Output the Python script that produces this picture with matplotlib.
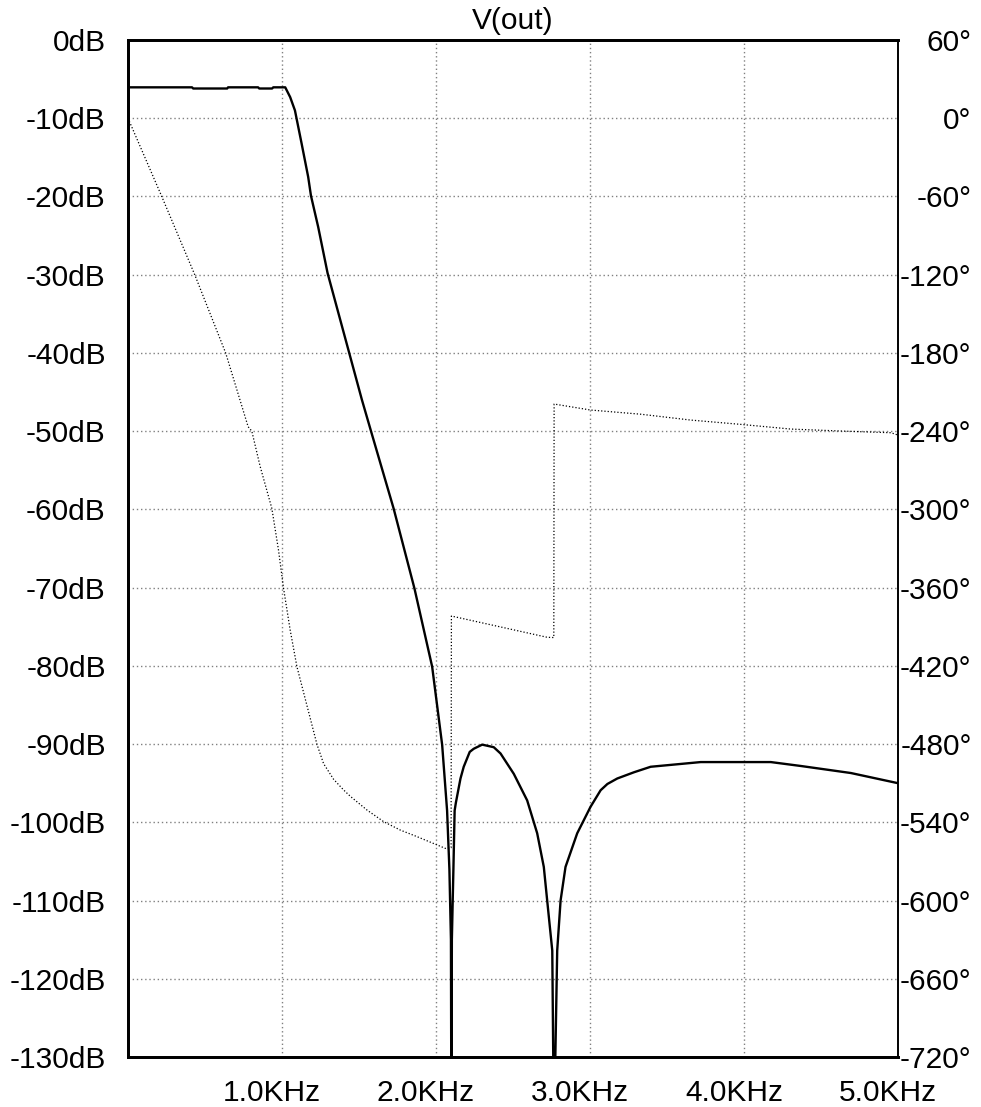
import matplotlib
matplotlib.use("Agg")
import matplotlib.pyplot as plt
from matplotlib.transforms import ScaledTranslation

plt.rcParams['font.family'] = ['Liberation Sans', 'DejaVu Sans']

# ---- data ----
mag_freq = [0, 416, 423, 644, 650, 845, 852, 936, 943, 1021, 1053, 1084, 1127, 1170,
            1188, 1235, 1296, 1519, 1578, 1725, 1860, 1975, 2040, 2072, 2087,
            2097, 2100, 2103, 2113, 2121, 2129, 2159, 2180, 2219, 2245, 2300, 2375,
            2419, 2505, 2592, 2657, 2700, 2722, 2755, 2766, 2787, 2809, 2841, 2917,
            3004, 3069, 3113, 3177, 3286, 3394, 3719, 4174, 4369, 4694, 5000]
mag_db = [-6.05, -6.05, -6.2, -6.2, -6.05, -6.05, -6.2, -6.2, -6.05, -6.05, -7.3, -9.0,
          -13.2, -17.5, -19.9, -23.9, -29.8, -46.0, -50.0, -59.9, -70.1, -80.1,
          -90.1, -98.5, -106.0, -115.0, -140.0, -115.0, -106.0, -98.5, -97.5, -94.4,
          -92.9, -91.0, -90.6, -90.07, -90.4, -91.2, -93.8, -97.2, -101.4, -105.7,
          -110.0, -116.4, -140.0, -116.4, -110.0, -105.7, -101.4, -98.0,
          -95.9, -95.1, -94.4, -93.6, -92.9, -92.3, -92.3, -92.8, -93.7, -95.0]

ph_freq = [0, 217, 434, 635, 780, 804, 858, 934, 977, 1010, 1053, 1097, 1227,
           1270, 1335, 1400, 1443, 1552, 1660, 1769, 1877, 2061, 2098, 2100, 2722,
           2765, 2767, 3004, 3329, 3654, 3979, 4304, 4629, 4954, 5000]
ph_deg = [0, -59.4, -120.2, -180.3, -236.6, -240, -267, -299.2, -331, -360.5, -392.5,
          -420.7, -480.2, -495, -507, -515.2, -520, -530.6, -539.5, -546, -551,
          -560, -559.5, -381.8, -398.1, -398.3, -219.2, -223.8, -227, -231.5, -234.8,
          -238.4, -239.9, -241.2, -243]

x_ticks = [1000, 2000, 3000, 4000, 5000]
x_labels = ['1.0KHz', '2.0KHz', '3.0KHz', '4.0KHz', '5.0KHz']
db_ticks = list(range(0, -131, -10))
db_labels = [f'{v}dB' for v in db_ticks]
deg_ticks = list(range(60, -721, -60))
deg_labels = [f'{v}°' for v in deg_ticks]
title = 'V(out)'

# ---- figure ----
fig = plt.figure(figsize=(9.81, 11.07), dpi=100)
L, R, T, B = 128 / 981, 898 / 981, 1 - 40 / 1107, 1 - 1057 / 1107
ax = fig.add_axes([L, B, R - L, T - B])
ax2 = ax.twinx()

FS = 21.5
ax.plot(mag_freq, mag_db, color='black', lw=1.7, solid_joinstyle='round', zorder=3)
ax2.plot(ph_freq, ph_deg, color='black', lw=0.9, linestyle=(0, (1, 1.6)), zorder=3)

ax.set_xlim(0, 5000)
ax.set_ylim(-130, 0)
ax2.set_ylim(-720, 60)

ax.set_xticks(x_ticks)
ax.set_xticklabels(x_labels, fontsize=FS)
ax.set_yticks(db_ticks)
ax.set_yticklabels(db_labels, fontsize=FS)
ax2.set_yticks(deg_ticks)
ax2.set_yticklabels(deg_labels, fontsize=FS, ha='right')

ax.tick_params(axis='x', length=0, pad=16)
ax.tick_params(axis='y', length=0, pad=16)
ax2.tick_params(axis='y', length=0, pad=53)

ax.grid(True, color='#808080', linestyle=(0, (1, 2)), lw=1.0)
ax.set_axisbelow(True)

for axis_ in (ax, ax2):
    for name, sp in axis_.spines.items():
        sp.set_linewidth(2.0 if name != 'right' else 1.2)
        sp.set_color('black')

ax.set_title(title, fontsize=FS, pad=8)

# shift x labels slightly left, like the reference
off = ScaledTranslation(-10 / 100, 0, fig.dpi_scale_trans)
for tk in ax.xaxis.get_major_ticks():
    tk.label1.set_transform(tk.label1.get_transform() + off)

fig.savefig('out.png', dpi=100, facecolor='white')
